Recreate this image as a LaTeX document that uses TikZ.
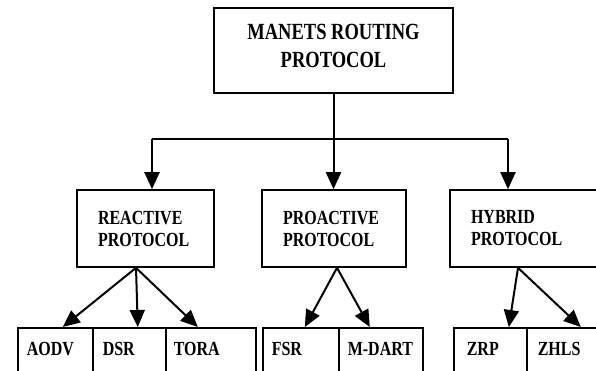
\documentclass[tikz,border=0pt]{standalone}
\usepackage{fontspec}
\setmainfont{Liberation Serif}
\usetikzlibrary{arrows.meta}
\newcommand\tallbf[1]{\scalebox{1}[1.25]{#1}}
\tikzset{
  box/.style={draw, line width=1.6pt, rectangle, inner sep=0pt},
  rootbox/.style={box, minimum width=239pt, minimum height=85pt, align=center,
    font=\fontsize{18.5}{29}\selectfont\bfseries},
  midbox/.style={box, minimum height=77pt, inner xsep=21pt, align=left,
    font=\fontsize{16}{22}\selectfont\bfseries},
  leafbox/.style={box, anchor=north west, inner ysep=0pt, inner xsep=9pt,
    text height=28pt, text depth=26pt, align=left,
    font=\fontsize{16}{20}\selectfont\bfseries},
  link/.style={line width=2pt, -{Triangle[width=15pt,length=17pt]}},
  bus/.style={line width=2pt}
}
\begin{document}
\begin{tikzpicture}[x=1pt,y=-1pt]
\clip (0,0) rectangle (596,370);
\fill[white] (0,0) rectangle (596,370);

% root
\node[rootbox] (root) at (333.5,50.5) {\tallbf{MANETS ROUTING}\\[-1pt]\tallbf{PROTOCOL}\rule[-9pt]{0pt}{9pt}};

% protocol families
\node[midbox, text width=95pt] (react) at (145.5,228.5) {\tallbf{REACTIVE}\\\tallbf{PROTOCOL}};
\node[midbox, text width=102pt] (proact) at (334,228.5) {\tallbf{PROACTIVE}\\\tallbf{PROTOCOL}};
\node[midbox, text width=113pt] (hybrid) at (527.5,228.5) {\tallbf{HYBRID}\\\tallbf{PROTOCOL}};

% individual protocols
\node[leafbox, text width=57pt] (aodv) at (17,327) {\tallbf{AODV}};
\node[leafbox, text width=53pt, inner xsep=10pt] (dsr) at (92,327) {\tallbf{DSR}};
\node[leafbox, text width=74pt, inner xsep=8pt] (tora) at (165,327) {\tallbf{TORA}};
\node[leafbox, text width=58pt] (fsr) at (262,327) {\tallbf{FSR}};
\node[leafbox, text width=66pt] (mdart) at (338,327) {\tallbf{M-DART}};
\node[leafbox, text width=47pt, inner xsep=13pt] (zrp) at (453,327) {\tallbf{ZRP}};
\node[leafbox, text width=62pt, inner xsep=11pt] (zhls) at (526,327) {\tallbf{ZHLS}};

% distribution bus from the root
\coordinate (busL) at (152,139);
\coordinate (busR) at (508,139);
\draw[bus] (root.south) -- (root.south |- busL);
\draw[bus] (busL) -- (busR);
\draw[link] (busL) -- (busL |- react.north);
\draw[link] (root.south |- busL) -- (root.south |- proact.north);
\draw[link] (busR) -- (busR |- hybrid.north);

% reactive family
\draw[link] ([xshift=-9.5pt]react.south) -- ([xshift=7.5pt]aodv.north);
\draw[link] ([xshift=-9.5pt]react.south) -- ([xshift=8.5pt]dsr.north);
\draw[link] ([xshift=-9.5pt]react.south) -- ([xshift=-13pt]tora.north);

% proactive family
\draw[link] ([xshift=3pt]proact.south) -- ([xshift=4pt]fsr.north);
\draw[link] ([xshift=3pt]proact.south) -- ([xshift=-11pt]mdart.north);

% hybrid family
\draw[link] ([xshift=-9.5pt]hybrid.south) -- ([xshift=18.5pt]zrp.north);
\draw[link] ([xshift=-9.5pt]hybrid.south) -- ([xshift=12pt]zhls.north);
\end{tikzpicture}
\end{document}
